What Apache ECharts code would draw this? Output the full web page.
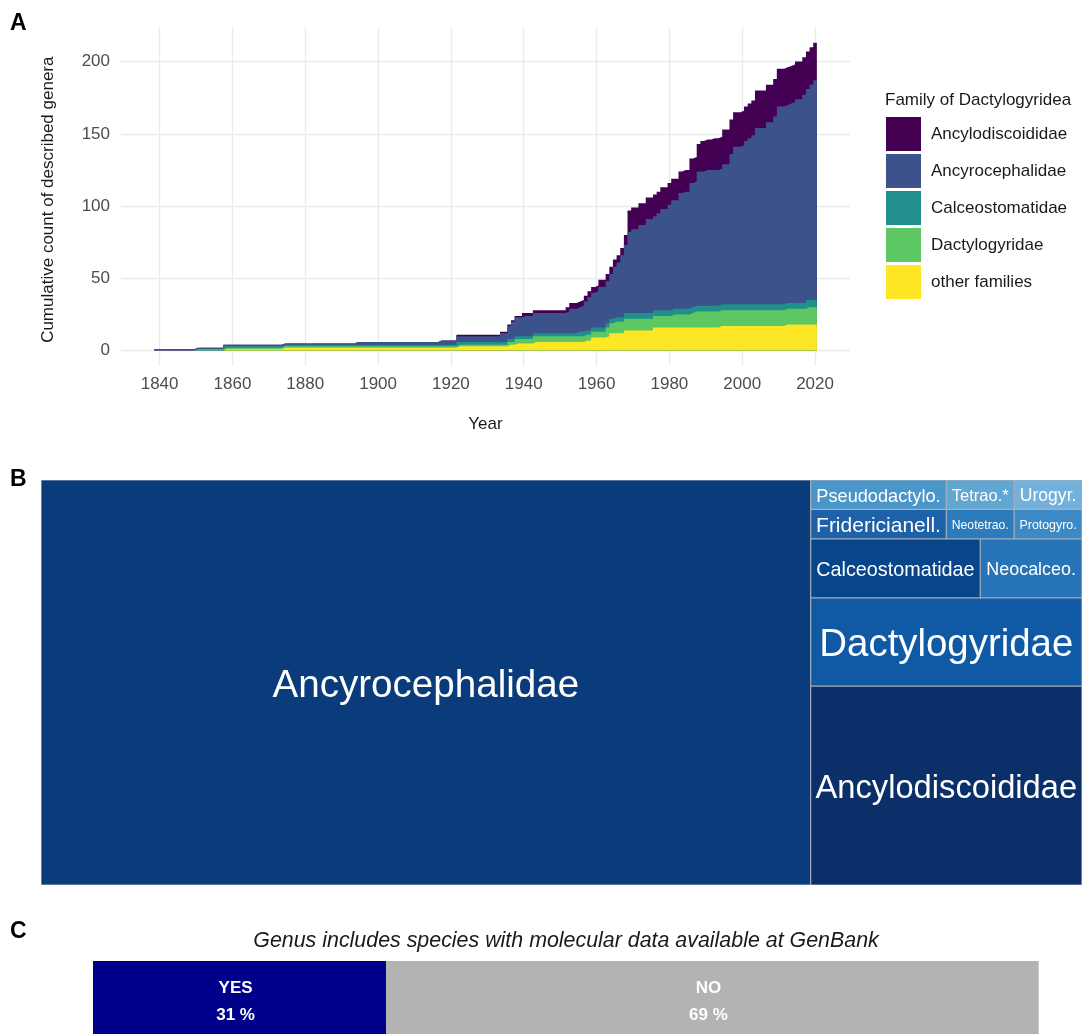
<!DOCTYPE html>
<html><head><meta charset="utf-8">
<script src="https://cdn.jsdelivr.net/npm/echarts@6/dist/echarts.min.js"></script>
<style>html,body{margin:0;padding:0;background:#fff}#c{width:1082px;height:1034px}</style>
</head><body><div id="c"></div>
<script>
// ---------- Panel A: cumulative count of described genera (change points [year, cumulative count])
const firstYear = 1839, lastYear = 2020;
const ancylodiscoididae = [[1922,1],[1940,2],[1952,3],[1953,4],[1961,5],[1968,7],[1969,15],[1986,17],[1988,19],[1989,21],[1992,22],[1995,24],[2004,26]];
const ancyrocephalidae = [[1839,1],[1894,2],[1917,3],[1922,4],[1934,6],[1936,9],[1937,12],[1938,13],[1940,14],[1952,15],[1953,17],[1956,18],[1957,20],[1958,23],[1959,24],[1960,25],[1961,28],[1963,29],[1964,31],[1965,35],[1966,38],[1967,43],[1968,47],[1969,56],[1970,58],[1972,61],[1974,65],[1977,67],[1978,70],[1980,73],[1981,75],[1983,80],[1984,81],[1986,86],[1988,93],[1990,94],[1995,97],[1997,104],[1998,109],[2000,110],[2001,113],[2002,115],[2003,117],[2004,122],[2007,126],[2009,130],[2010,137],[2013,138],[2014,139],[2015,141],[2017,144],[2018,146],[2019,149],[2020,152]];
const calceostomatidae = [[1858,1],[1922,2],[1955,3],[1968,4],[2018,5]];
const dactylogyridae = [[1850,1],[1936,2],[1938,3],[1943,4],[1963,6],[1964,7],[1965,8],[1981,9],[1986,10],[1987,11],[2018,12]];
const otherFamilies = [[1858,1],[1874,2],[1922,3],[1936,4],[1938,5],[1943,6],[1957,7],[1959,9],[1963,10],[1964,12],[1968,14],[1976,16],[1994,17],[2012,18]];
const familyNames = ['Ancylodiscoididae','Ancyrocephalidae','Calceostomatidae','Dactylogyridae','other families'];
const xTicks = [1840,1860,1880,1900,1920,1940,1960,1980,2000,2020];
const yTicks = [0,50,100,150,200];

// ---------- Panel B: treemap (genera per family)
const tmNames = ['Ancyrocephalidae','Pseudodactylo.','Tetrao.*','Urogyr.','Fridericianell.','Neotetrao.','Protogyro.','Calceostomatidae','Neocalceo.','Dactylogyridae','Ancylodiscoididae'];
const tmValues = [156,2,1,1,2,1,1,5,3,12,27];

// ---------- Panel C: molecular data at GenBank
const genbankCats = ['YES','NO'];
const genbankPct = [31,69];

// ---------- styles
const familyColors = ['#440154','#3b528b','#21908c','#5dc863','#fde725'];
const tmColors = ['#0a3c7c','#4b96c9','#62a6d2','#73b1da','#1d62a9','#2c7bbd','#3b89c5','#08468b','#2874b8','#1059a5','#0a2f69'];
const tmFont = [38.6,18.2,16.5,17.6,21,12.2,12.4,19.8,17.9,38.4,32.7];
const genbankColors = ['#00008b','#b3b3b3'];
const FONT = 'Liberation Sans, Arial, sans-serif';

// build per-year values (step function of the change points) and stack them
const famPoints = [ancylodiscoididae, ancyrocephalidae, calceostomatidae, dactylogyridae, otherFamilies];
const yearList = [];
for (let y = firstYear; y <= lastYear; y++) yearList.push(y);
function expand(pts) {
  const out = []; let v = 0, j = 0;
  yearList.forEach(y => { while (j < pts.length && pts[j][0] <= y) { v = pts[j][1]; j++; } out.push(v); });
  return out;
}
const perYear = famPoints.map(expand);
const tops = famPoints.map((_, i) => yearList.map((_, k) => {
  let s = 0; for (let j = i; j < famPoints.length; j++) s += perYear[j][k]; return s;
}));
function stepData(vals) {
  const d = yearList.map((y, k) => [y - 0.5, vals[k]]);
  d.push([lastYear + 0.5, vals[vals.length - 1]]);
  return d;
}

const seriesA = familyNames.map((n, i) => ({
  type: 'line', name: n, xAxisIndex: 0, yAxisIndex: 0,
  data: stepData(tops[i]), step: 'end', symbol: 'none', silent: true,
  color: familyColors[i], itemStyle: { color: familyColors[i] },
  lineStyle: { width: 0 }, areaStyle: { color: familyColors[i], opacity: 1 }
}));

const treeData = tmNames.map((n, i) => ({
  name: n, value: tmValues[i],
  itemStyle: { color: tmColors[i] },
  label: { fontSize: tmFont[i], offset: [0, tmFont[i] * 0.1] }
}));

const chart = echarts.init(document.getElementById('c'), null, { renderer: 'canvas' });
chart.setOption({
  animation: false,
  textStyle: { fontFamily: FONT },
  title: [
    { text: 'A', left: 10, top: 12, padding: 0, textStyle: { fontSize: 23, fontWeight: 'bold', color: '#000', fontFamily: FONT } },
    { text: 'B', left: 10, top: 468, padding: 0, textStyle: { fontSize: 23, fontWeight: 'bold', color: '#000', fontFamily: FONT } },
    { text: 'C', left: 10, top: 920, padding: 0, textStyle: { fontSize: 23, fontWeight: 'bold', color: '#000', fontFamily: FONT } },
    { text: 'Family of Dactylogyridea', left: 885, top: 92, padding: 0, textStyle: { fontSize: 17, fontWeight: 'normal', color: '#1a1a1a', fontFamily: FONT } },
    { text: 'Genus includes species with molecular data available at GenBank', left: 566, textAlign: 'center', top: 930.5, padding: 0,
      textStyle: { fontSize: 21.4, fontStyle: 'italic', fontWeight: 'normal', color: '#1a1a1a', fontFamily: FONT } }
  ],
  legend: {
    orient: 'vertical', left: 886, top: 117, padding: 0, itemWidth: 35, itemHeight: 34, itemGap: 3,
    icon: 'rect', selectedMode: false, data: familyNames,
    itemStyle: { borderWidth: 0 },
    textStyle: { fontSize: 17, color: '#1a1a1a', fontFamily: FONT, padding: [0, 0, 0, 5] }
  },
  grid: [
    { left: 121, top: 27.4, width: 729, height: 338.6 },
    { left: 93, top: 961, width: 945.7, height: 78 }
  ],
  xAxis: [
    { type: 'value', gridIndex: 0, min: 1829.4, max: 2029.6,
      axisLine: { show: false }, axisTick: { show: false, customValues: xTicks },
      axisLabel: { customValues: xTicks, formatter: v => String(v), color: '#4d4d4d', fontSize: 17, margin: 9.5, fontFamily: FONT },
      splitLine: { show: true, lineStyle: { color: '#ebebeb', width: 1.4 } },
      name: 'Year', nameLocation: 'middle', nameGap: 49.5,
      nameTextStyle: { color: '#1a1a1a', fontSize: 17, fontFamily: FONT } },
    { type: 'value', gridIndex: 1, min: 0, max: 100, show: false }
  ],
  yAxis: [
    { type: 'value', gridIndex: 0, min: -10.65, max: 223.65,
      axisLine: { show: false }, axisTick: { show: false, customValues: yTicks },
      axisLabel: { customValues: yTicks, formatter: v => String(v), color: '#4d4d4d', fontSize: 17, margin: 11, fontFamily: FONT },
      splitLine: { show: true, lineStyle: { color: '#ebebeb', width: 1.4 } },
      name: 'Cumulative count of described genera', nameLocation: 'middle', nameGap: 64,
      nameTextStyle: { color: '#1a1a1a', fontSize: 17, fontFamily: FONT, padding: [0, 6, 0, 0] } },
    { type: 'category', gridIndex: 1, data: ['GenBank'], show: false }
  ],
  series: seriesA.concat([
    {
      type: 'treemap', left: 41, top: 480, width: 1041, height: 405,
      roam: false, nodeClick: false, sort: false, squareRatio: 0.38,
      breadcrumb: { show: false }, silent: true,
      itemStyle: { borderColor: '#a6afbb', borderWidth: 0.6, gapWidth: 0 },
      levels: [{ itemStyle: { borderWidth: 0, gapWidth: 0 } }],
      label: { show: true, position: 'inside', align: 'center', verticalAlign: 'middle', color: '#fff', padding: 0, overflow: 'none', fontFamily: FONT },
      data: treeData
    }
  ]).concat(genbankCats.map((c, i) => ({
    type: 'bar', name: c, xAxisIndex: 1, yAxisIndex: 1, stack: 'gb', barWidth: '100%', silent: true,
    data: [genbankPct[i]], itemStyle: { color: genbankColors[i] },
    label: { show: true, position: 'inside', offset: [-4, 4], color: '#fff', fontWeight: 'bold', fontSize: 17, lineHeight: 27, fontFamily: FONT,
      formatter: p => p.seriesName + '\n' + p.value + ' %' }
  })))
});
</script></body></html>
